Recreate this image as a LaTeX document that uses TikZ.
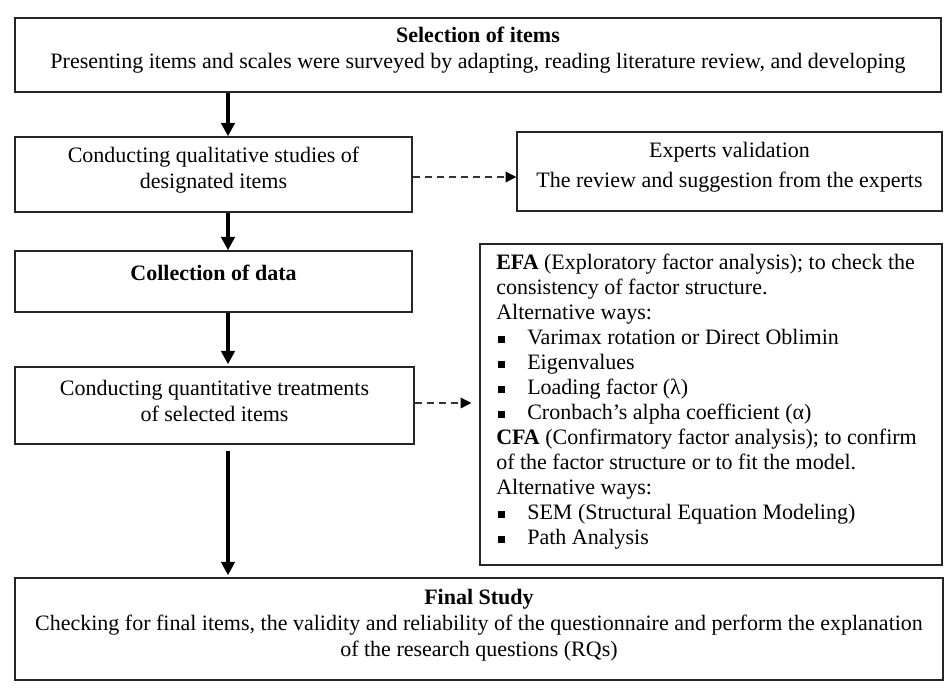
\documentclass[tikz,border=0pt]{standalone}
\usepackage{fontspec}
\setmainfont{Liberation Serif}
\usetikzlibrary{arrows.meta}
\newcommand{\bul}{\makebox[23.25pt][l]{\hspace{1.5pt}\rule[1.3pt]{5pt}{5pt}}}
\begin{document}
\begin{tikzpicture}[x=0.75pt,y=-0.75pt]
\tikzset{
 box/.style={draw=black!85, line width=1.1pt, inner sep=0pt},
 txt/.style={align=center, inner sep=0pt, font=\fontsize{16.5}{19.5}\selectfont},
 flow/.style={line width=2.6pt, -{Triangle[length=10pt,width=10pt]}},
 side/.style={draw=black!80, line width=0.9pt, dash pattern=on 5.5pt off 3.5pt, -{Triangle[length=8pt,width=8pt,fill=black,color=black]}}
}
\useasboundingbox[fill=white] (0,0) rectangle (947,689);
% boxes
\node[box, minimum width=926*0.75pt, minimum height=74*0.75pt] (sel) at (478,55) {};
\node[box, minimum width=397*0.75pt, minimum height=75*0.75pt] (qual) at (213.5,174.5) {};
\node[box, minimum width=425*0.75pt, minimum height=79*0.75pt] (exp) at (729.5,171.5) {};
\node[box, minimum width=397*0.75pt, minimum height=61*0.75pt] (coll) at (213.5,281.5) {};
\node[box, minimum width=399*0.75pt, minimum height=77*0.75pt] (quant) at (214.5,405.5) {};
\node[box, minimum width=462*0.75pt, minimum height=321*0.75pt] (efa) at (711,404.5) {};
\node[box, minimum width=928*0.75pt, minimum height=102*0.75pt] (fin) at (479,629) {};
% texts
\node[txt] (selt) at (478,50) {\textbf{Selection of items}\\Presenting items and scales were surveyed by adapting, reading literature review, and developing};
\node[txt] (qualt) at (213.5,170) {Conducting qualitative studies of\\designated items};
\node[txt, font=\fontsize{16.5}{22.5}\selectfont] (expt) at (729.5,167) {Experts validation\\The review and suggestion from the experts};
\node[txt] (collt) at (213.5,273) {\textbf{Collection of data}};
\node[txt] (quantt) at (214.5,401) {Conducting quantitative treatments\\of selected items};
\node[txt] (fint) at (479,625.5) {\textbf{Final Study}\\Checking for final items, the validity and reliability of the questionnaire and perform the explanation\\of the research questions (RQs)};
\node[anchor=north west, inner sep=0pt, align=left, font=\fontsize{16.5}{18.75}\selectfont] (efat) at (496,254) {%
\textbf{EFA} (Exploratory factor analysis); to check the\\
consistency of factor structure.\\
Alternative ways:\\
\bul Varimax rotation or Direct Oblimin\\
\bul Eigenvalues\\
\bul Loading factor (λ)\\
\bul Cronbach’s alpha coefficient (α)\\
\textbf{CFA} (Confirmatory factor analysis); to confirm\\
of the factor structure or to fit the model.\\
Alternative ways:\\
\bul SEM (Structural Equation Modeling)\\
\bul Path Analysis};
% connectors
\coordinate (ax) at (228,0);
\coordinate (a4s) at (228,451);
\coordinate (d1) at (0,177);
\coordinate (d2) at (0,403);
\draw[flow] (sel.south -| ax) -- (qual.north -| ax);
\draw[flow] (qual.south -| ax) -- (coll.north -| ax);
\draw[flow] (coll.south -| ax) -- ([yshift=1.5pt]quant.north -| ax);
\draw[flow] (a4s) -- ([yshift=1.5pt]fin.north -| ax);
\draw[side] (qual.east |- d1) -- (exp.west |- d1);
\draw[side, shorten >=6pt] (quant.east |- d2) -- (efa.west |- d2);
\end{tikzpicture}
\end{document}
